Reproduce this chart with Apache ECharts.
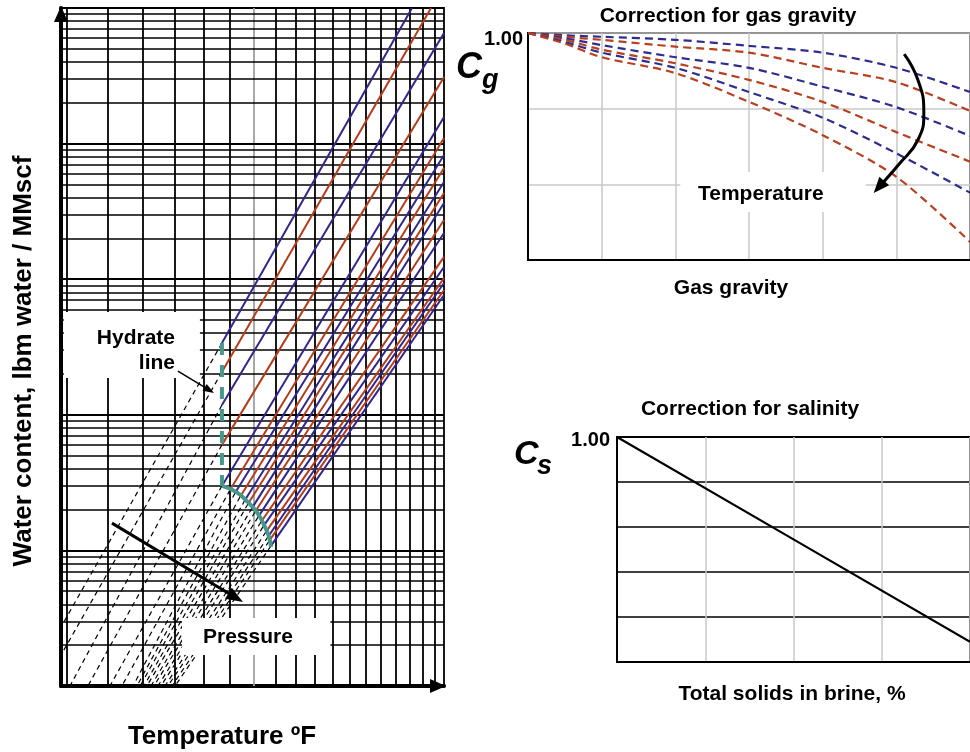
<!DOCTYPE html>
<html><head><meta charset="utf-8">
<script src="https://cdn.jsdelivr.net/npm/echarts@6/dist/echarts.min.js"></script>
<style>html,body{margin:0;padding:0;background:#fff}#c{width:970px;height:752px}</style>
</head><body><div id="c"></div>
<script>
// ================= DATA =================
// Main chart: temperature axis is a log scale of (T + 194) so that the 20 °F grid matches the chart
const T_OFFSET = 194;
const tempGridF = [-60,-40,-20,0,20,40,60,80,100,120,140,160,180,200,220,240,260,280];
const tempMinF = -62.7, tempMaxF = 294.8;
const waterDecades = [1,10,100,1000,10000];
const waterMinors = [1,2,3,4,5,6,7,8,9];
const waterMin = 1, waterMax = 100000;

// Isobars (alternating blue / red): start on hydrate line, end at chart edge
const isobarStartT = [34.1,34.1,34.1,34.1,34.1,40.5,44.6,48.7,52.9,55.4,58.9,61.5,64.2,66.8,68.6,71.3,73.2,74.1,75.9];
const isobarStartW = [338,207,118,60,29.9,27.9,26.5,24.8,23.5,22.0,20.5,19.2,17.6,16.2,14.9,13.7,12.6,11.7,10.8];
const isobarEndT   = [244,273.5,294.8,294.8,294.8,294.8,294.8,294.8,294.8,294.8,294.8,294.8,294.8,294.8,294.8,294.8,294.8,294.8,294.8];
const isobarEndW   = [100000,100000,65400,31000,15700,11000,8240,6610,5210,4320,3650,2730,2190,1460,1230,1020,938,833,765];
// Metastable (dashed black) extensions below the hydrate line
const metaEndT = [-62.7,-62.7,-58.6,-50.0,-38.7,-32.2,-25.9,-23.6,-21.8,-19.5,-17.7,-15.2,-13.4,-10.9,-9.0,-6.4,-4.5,-1.8,0.2];
const metaEndW = [2.72,1.69,1,1,1,1,1,1,1,1,1,1,1,1,1,1,1,1,1];
// Hydrate line
const hydrateVertT = [34.1,34.1];
const hydrateVertW = [338,29.9];
const hydrateCurveT = [34.1,45.4,55.4,64.2,70.4,74.1,75.9];
const hydrateCurveW = [29.9,27.0,22.7,18.6,14.9,12.6,10.6];

// Gas gravity correction
const gasGravity = [0.5,0.55,0.6,0.7,0.8,0.9,1.0,1.1];
const cgBlue1 = [1.0,0.997,0.995,0.991,0.983,0.974,0.954,0.922];
const cgRed1  = [1.0,0.995,0.991,0.982,0.974,0.954,0.935,0.897];
const cgBlue2 = [1.0,0.993,0.984,0.968,0.954,0.929,0.902,0.864];
const cgRed2  = [1.0,0.991,0.978,0.960,0.938,0.909,0.869,0.830];
const cgBlue3 = [1.0,0.988,0.974,0.954,0.922,0.888,0.841,0.789];
const cgRed3  = [1.0,0.986,0.968,0.947,0.909,0.865,0.810,0.724];

// Salinity correction
const salinityX  = [0,2,4];
const salinityCs = [1.0,0.9545,0.909];

// ================= STYLE =================
const FONT = '"Liberation Sans", Arial, Helvetica, sans-serif';
const BLUE = '#30268c', RED = '#b23d1d', TEAL = '#47978d';
const GAS_BLUE = '#2e2c8f', GAS_RED = '#b8401f';
const tx = t => t + T_OFFSET;

const chart = echarts.init(document.getElementById('c'), null, {renderer:'canvas', width:970, height:752});

const series = [];
// main grid lines
const vLines = tempGridF.map(t => ({xAxis: tx(t), lineStyle:{color: t === 60 ? '#a0a0a0' : '#000', width:1.8, type:'solid'}}));
const hLines = [];
waterDecades.forEach(d => waterMinors.forEach(m => {
  const v = d * m;
  if (v > waterMin) hLines.push({yAxis: v, lineStyle:{color:'#000', width: m === 1 ? 2.2 : 1.6, type:'solid'}});
}));
series.push({
  type:'line', xAxisIndex:0, yAxisIndex:0, data:[[tx(tempMinF), waterMin]], symbol:'none',
  lineStyle:{opacity:0}, silent:true, z:1,
  markLine:{silent:true, symbol:['none','none'], z:1, animation:false, label:{show:false},
    lineStyle:{type:'solid'}, emphasis:{disabled:true}, data: vLines.concat(hLines)}
});
for (let i = 0; i < isobarStartT.length; i++) {
  series.push({type:'line', xAxisIndex:0, yAxisIndex:0, symbol:'none', silent:true, z:3,
    lineStyle:{color: i % 2 === 0 ? BLUE : RED, width:2},
    data:[[tx(isobarStartT[i]), isobarStartW[i]], [tx(isobarEndT[i]), isobarEndW[i]]]});
  series.push({type:'line', xAxisIndex:0, yAxisIndex:0, symbol:'none', silent:true, z:2,
    lineStyle:{color:'#000', width:1.2, type:[5,4]},
    data:[[tx(isobarStartT[i]), isobarStartW[i]], [tx(metaEndT[i]), metaEndW[i]]]});
}
series.push({type:'line', xAxisIndex:0, yAxisIndex:0, symbol:'none', silent:true, z:4,
  lineStyle:{color:TEAL, width:4, type:[12,10]},
  data: hydrateVertT.map((t,i) => [tx(t), hydrateVertW[i]])});
series.push({type:'line', xAxisIndex:0, yAxisIndex:0, symbol:'none', silent:true, z:4, smooth:true,
  lineStyle:{color:TEAL, width:4},
  data: hydrateCurveT.map((t,i) => [tx(t), hydrateCurveW[i]])});

// gas gravity curves
[cgBlue1, cgRed1, cgBlue2, cgRed2, cgBlue3, cgRed3].forEach((arr, i) => {
  series.push({type:'line', xAxisIndex:1, yAxisIndex:1, symbol:'none', silent:true, smooth:0.3, z:3,
    lineStyle:{color: i % 2 === 0 ? GAS_BLUE : GAS_RED, width:2.2, type:[8,5]},
    data: gasGravity.map((g,j) => [g, arr[j]])});
});
// salinity
series.push({type:'line', xAxisIndex:2, yAxisIndex:2, symbol:'none', silent:true, z:3,
  lineStyle:{color:'#000', width:2.2}, data: salinityX.map((x,i) => [x, salinityCs[i]])});

const noLabel = {show:false};
const mainAxisLine = {show:true, lineStyle:{color:'#000', width:4}, symbol:['none','triangle'], symbolSize:[14,16], symbolOffset:[0,-6]};

const option = {
  animation:false,
  backgroundColor:'#fff',
  grid:[
    {left:61, top:8, width:383, height:678, show:true, borderColor:'#000', borderWidth:1.8, backgroundColor:'transparent'},
    {left:528, top:33, width:450, height:227, show:true, borderColor:'#000', borderWidth:2, backgroundColor:'transparent'},
    {left:617, top:437, width:360, height:225, show:true, borderColor:'#000', borderWidth:2, backgroundColor:'transparent'}
  ],
  xAxis:[
    {gridIndex:0, type:'log', logBase:10, min:tx(tempMinF), max:tx(tempMaxF), axisLine:mainAxisLine,
      axisTick:{show:false}, axisLabel:noLabel, splitLine:{show:false}, minorSplitLine:{show:false}},
    {gridIndex:1, type:'value', min:0.5, max:1.1, interval:0.1, axisLine:{lineStyle:{color:'#000', width:2}},
      axisTick:{show:false}, axisLabel:noLabel, splitLine:{show:true, lineStyle:{color:'#c8c8c8', width:1.5}}},
    {gridIndex:2, type:'value', min:0, max:4, interval:1, axisLine:{lineStyle:{color:'#000', width:2}},
      axisTick:{show:false}, axisLabel:noLabel, splitLine:{show:true, lineStyle:{color:'#c8c8c8', width:1.5}}}
  ],
  yAxis:[
    {gridIndex:0, type:'log', logBase:10, min:waterMin, max:waterMax, axisLine:mainAxisLine,
      axisTick:{show:false}, axisLabel:noLabel, splitLine:{show:false}, minorSplitLine:{show:false}},
    {gridIndex:1, type:'value', min:0.7, max:1.0, interval:0.1, axisLine:{show:true, lineStyle:{color:'#000', width:2}},
      axisTick:{show:false}, axisLabel:noLabel, splitLine:{show:true, lineStyle:{color:'#c8c8c8', width:1.5}}},
    {gridIndex:2, type:'value', min:0.9, max:1.0, interval:0.02, axisLine:{show:true, lineStyle:{color:'#000', width:2}},
      axisTick:{show:false}, axisLabel:noLabel, splitLine:{show:true, lineStyle:{color:'#000', width:1.6}}}
  ],
  series: series
};
chart.setOption(option);

// ================= ANNOTATIONS (anchored in data space) =================
const P0 = (t, w) => chart.convertToPixel({gridIndex:0}, [tx(t), w]);
const P1 = (x, y) => chart.convertToPixel({gridIndex:1}, [x, y]);
const P2 = (x, y) => chart.convertToPixel({gridIndex:2}, [x, y]);

function boxEl(a, b) {
  return {type:'rect', z:100, shape:{x:Math.min(a[0],b[0]), y:Math.min(a[1],b[1]),
    width:Math.abs(b[0]-a[0]), height:Math.abs(b[1]-a[1])}, style:{fill:'#fff'}};
}
function txt(p, text, font, align, vAlign, rot) {
  const el = {type:'text', z:101, x:p[0], y:p[1],
    style:{text:text, font:font, fill:'#000', align:align || 'center', verticalAlign:vAlign || 'middle',
      textAlign:align || 'center', textVerticalAlign:vAlign || 'middle'}};
  if (rot) el.rotation = rot;
  return el;
}
function arrowEls(pts, width, headLen, headW, smooth) {
  const n = pts.length, tip = pts[n-1], prev = pts[n-2];
  const dx = tip[0]-prev[0], dy = tip[1]-prev[1], L = Math.hypot(dx, dy), ux = dx/L, uy = dy/L;
  const base = [tip[0]-ux*headLen*0.8, tip[1]-uy*headLen*0.8];
  const hb = [tip[0]-ux*headLen, tip[1]-uy*headLen];
  return [
    {type:'polyline', z:102, shape:{points: pts.slice(0, n-1).concat([base]), smooth: smooth || 0},
      style:{stroke:'#000', lineWidth:width, fill:null}},
    {type:'polygon', z:103, shape:{points:[tip, [hb[0]-uy*headW/2, hb[1]+ux*headW/2], [hb[0]+uy*headW/2, hb[1]-ux*headW/2]]},
      style:{fill:'#000'}}
  ];
}
const shift = (p, dx, dy) => [p[0] + dx, p[1] + dy];
const B20 = 'bold 20px ' + FONT, B21 = 'bold 21px ' + FONT, B26 = 'bold 26px ' + FONT;
let els = [];
// main chart boxes & labels
els.push(boxEl(P0(-61.4, 573), P0(17.5, 186.8)));
els.push(txt(P0(0.2, 368), 'Hydrate', B21, 'right'));
els.push(txt(P0(0.2, 241), 'line', B21, 'right'));
els = els.concat(arrowEls([P0(2.1, 210), P0(28, 144.8)], 1.5, 11, 8));
els.push(boxEl(P0(4.9, 3.17), P0(137, 1.69)));
els.push(txt(P0(55.4, 2.30), 'Pressure', B21));
els = els.concat(arrowEls([P0(-37.6, 15.9), P0(51.2, 4.16)], 3, 17, 13));
// gas chart
els.push(boxEl(P1(0.7067, 0.8164), P1(0.9587, 0.7636)));
els.push(txt(P1(0.816, 0.7873), 'Temperature', B21));
const gasArrowX = [1.0107,1.0293,1.0373,1.0293,1.0027,0.9693];
const gasArrowY = [0.9722,0.9379,0.8956,0.8586,0.8256,0.7885];
els = els.concat(arrowEls(gasArrowX.map((x,i) => P1(x, gasArrowY[i])), 3, 16, 13, 0.5));
// "1.00" tick labels at the top of each correction axis
els.push(txt(shift(P1(0.5, 1.0), -5, 6), '1.00', B20, 'right'));
els.push(txt(shift(P2(0, 1.0), -7, 3), '1.00', B20, 'right'));
// titles
els.push(txt([24, 361], 'Water content, lbm water / MMscf', B26, 'center', 'middle', Math.PI/2));
els.push(txt([222, 737], 'Temperature ºF', B26));
els.push(txt([728, 16], 'Correction for gas gravity', B21));
els.push(txt([731, 288], 'Gas gravity', B21));
els.push(txt([750, 409], 'Correction for salinity', B21));
els.push(txt([792, 694], 'Total solids in brine, %', B21));
els.push(txt([456, 68], 'C', 'italic bold 36px ' + FONT, 'left'));
els.push(txt([482, 81], 'g', 'italic bold 27px ' + FONT, 'left'));
els.push(txt([514, 455], 'C', 'italic bold 34px ' + FONT, 'left'));
els.push(txt([537, 467], 's', 'italic bold 27px ' + FONT, 'left'));
chart.setOption({graphic:{elements: els}});
</script>
</body></html>
